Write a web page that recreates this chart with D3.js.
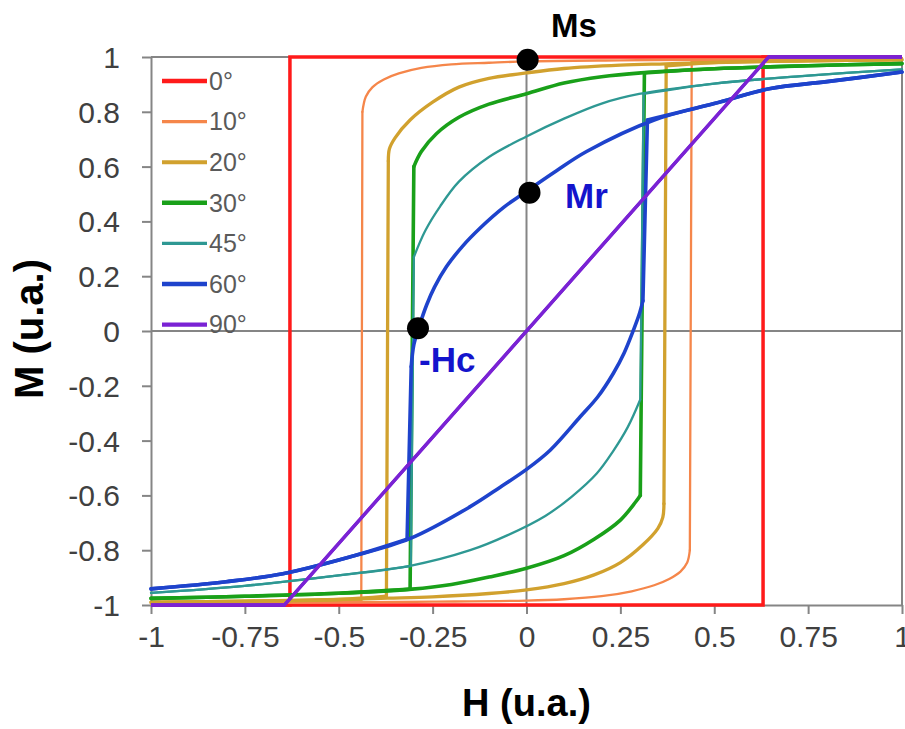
<!DOCTYPE html>
<html><head><meta charset="utf-8">
<script src="https://cdn.jsdelivr.net/npm/d3@7/dist/d3.min.js"></script>
<style>body{margin:0;background:#fff;} svg{display:block;font-family:"Liberation Sans",Arial,sans-serif;}</style>
</head><body><svg id="chart" width="905" height="729"></svg>
<script>
// ---------- data ----------
const angleLabels = ["0°","10°","20°","30°","45°","60°","90°"];
const hTicks = [-1,-0.75,-0.5,-0.25,0,0.25,0.5,0.75,1];
const hTickLabels = ["-1","-0.75","-0.5","-0.25","0","0.25","0.5","0.75","1"];
const mTicks = [-1,-0.8,-0.6,-0.4,-0.2,0,0.2,0.4,0.6,0.8,1];
const mTickLabels = ["-1","-0.8","-0.6","-0.4","-0.2","0","0.2","0.4","0.6","0.8","1"];

// [H, M] points, descending-field branch and ascending-field branch
const m0Desc = [[1,1],[-0.63,1],[-0.63,-1],[-1,-1]];
const m0Asc  = [[-1,-1],[0.63,-1],[0.63,1],[1,1]];

const m10Desc = [[1,0.995],[0.7,0.992],[0.437,0.99],[0.25,0.988],[0,0.984],[-0.1,0.979],[-0.2,0.973],[-0.28,0.96],[-0.34,0.94],[-0.38,0.918],[-0.41,0.89],[-0.428,0.855],[-0.437,0.8],[-0.44,-0.985],[-0.7,-0.992],[-1,-0.995]];
const m10Asc  = [[-1,-0.995],[-0.7,-0.992],[-0.437,-0.99],[-0.25,-0.988],[0,-0.984],[0.1,-0.979],[0.2,-0.968],[0.28,-0.95],[0.34,-0.928],[0.38,-0.905],[0.41,-0.878],[0.428,-0.845],[0.435,-0.8],[0.44,0.985],[0.7,0.992],[1,0.995]];

const m20Desc = [[1,0.99],[0.75,0.986],[0.5,0.98],[0.37,0.975],[0.25,0.97],[0.1,0.958],[0,0.942],[-0.1,0.922],[-0.18,0.89],[-0.25,0.835],[-0.31,0.77],[-0.35,0.705],[-0.365,0.665],[-0.368,0.62],[-0.373,-0.968],[-0.5,-0.98],[-0.75,-0.986],[-1,-0.99]];
const m20Asc  = [[-1,-0.99],[-0.75,-0.986],[-0.5,-0.98],[-0.37,-0.975],[-0.25,-0.97],[-0.1,-0.958],[0,-0.945],[0.1,-0.922],[0.18,-0.89],[0.25,-0.845],[0.31,-0.78],[0.35,-0.72],[0.363,-0.68],[0.366,-0.63],[0.372,0.968],[0.5,0.98],[0.75,0.986],[1,0.99]];

const m30Desc = [[1,0.976],[0.75,0.968],[0.5,0.957],[0.305,0.942],[0.2,0.928],[0.1,0.905],[0,0.866],[-0.1,0.828],[-0.18,0.78],[-0.24,0.72],[-0.28,0.655],[-0.3,0.6],[-0.31,-0.942],[-0.5,-0.957],[-0.75,-0.968],[-1,-0.976]];
const m30Asc  = [[-1,-0.976],[-0.75,-0.968],[-0.5,-0.957],[-0.305,-0.942],[-0.2,-0.925],[-0.1,-0.898],[0,-0.866],[0.1,-0.82],[0.18,-0.76],[0.25,-0.69],[0.29,-0.625],[0.303,-0.6],[0.314,0.942],[0.5,0.957],[0.75,0.968],[1,0.976]];

const m45Desc = [[1,0.955],[0.75,0.932],[0.5,0.903],[0.3,0.865],[0.2,0.83],[0.1,0.775],[0,0.71],[-0.1,0.635],[-0.18,0.545],[-0.23,0.455],[-0.27,0.365],[-0.3,0.27],[-0.308,-0.858],[-0.5,-0.892],[-0.75,-0.93],[-1,-0.956]];
const m45Asc  = [[-1,-0.956],[-0.75,-0.93],[-0.5,-0.892],[-0.31,-0.857],[-0.15,-0.8],[-0.05,-0.745],[0.05,-0.675],[0.12,-0.605],[0.187,-0.52],[0.23,-0.44],[0.27,-0.35],[0.303,-0.25],[0.312,0.865],[0.5,0.903],[0.75,0.932],[1,0.955]];

const m60Desc = [[1,0.945],[0.8,0.91],[0.65,0.885],[0.5,0.83],[0.34,0.77],[0.16,0.655],[0.08,0.585],[0,0.51],[-0.06,0.452],[-0.124,0.375],[-0.17,0.31],[-0.213,0.235],[-0.245,0.16],[-0.266,0.095],[-0.285,0.02],[-0.3,-0.05],[-0.307,-0.13],[-0.318,-0.76],[-0.471,-0.825],[-0.649,-0.886],[-0.8,-0.915],[-1,-0.941]];
const m60Asc  = [[-1,-0.941],[-0.8,-0.915],[-0.649,-0.886],[-0.471,-0.825],[-0.311,-0.758],[-0.151,-0.642],[-0.07,-0.57],[0,-0.505],[0.063,-0.435],[0.143,-0.313],[0.19,-0.24],[0.231,-0.155],[0.26,-0.08],[0.285,0.004],[0.3,0.06],[0.31,0.11],[0.322,0.77],[0.5,0.83],[0.65,0.885],[0.8,0.91],[1,0.945]];

const m90Desc = [[1,1],[0.645,1],[-0.645,-1],[-1,-1]];
const m90Asc  = [[-1,-1],[-0.645,-1],[0.645,1],[1,1]];

// annotation points [H, M]
const msPoint = [0.003, 0.99];
const mrPoint = [0.008, 0.505];
const hcPoint = [-0.289, 0.01];

// ---------- styles ----------
const series = [
  {label: angleLabels[0], branches: [m0Desc, m0Asc], color: "#ff1a1a", width: 3.5, smooth: false},
  {label: angleLabels[1], branches: [m10Desc, m10Asc], color: "#f5864a", width: 2.3, smooth: true},
  {label: angleLabels[2], branches: [m20Desc, m20Asc], color: "#d1a12e", width: 3.3, smooth: true},
  {label: angleLabels[3], branches: [m30Desc, m30Asc], color: "#19a019", width: 3.6, smooth: true},
  {label: angleLabels[4], branches: [m45Desc, m45Asc], color: "#2e9893", width: 2.3, smooth: true},
  {label: angleLabels[5], branches: [m60Desc, m60Asc], color: "#1e43cc", width: 3.6, smooth: true},
  {label: angleLabels[6], branches: [m90Desc, m90Asc], color: "#7a22d4", width: 3.3, smooth: false}
];

const svg = d3.select("#chart");
const x = d3.scaleLinear().domain([-1, 1]).range([151, 902]);
const y = d3.scaleLinear().domain([-1, 1]).range([605, 57]);
const gridColor = "#858585";
const tickColor = "#404040";

// plot frame (top and right)
svg.append("line").attr("x1", x(-1)).attr("x2", x(1)).attr("y1", y(1)).attr("y2", y(1))
  .attr("stroke", gridColor).attr("stroke-width", 2);
svg.append("line").attr("x1", x(1)).attr("x2", x(1)).attr("y1", y(1)).attr("y2", y(-1))
  .attr("stroke", gridColor).attr("stroke-width", 2);

// zero lines
svg.append("line").attr("x1", x(-1)).attr("x2", x(1)).attr("y1", y(0)).attr("y2", y(0))
  .attr("stroke", gridColor).attr("stroke-width", 2);
svg.append("line").attr("x1", x(0)).attr("x2", x(0)).attr("y1", y(1)).attr("y2", y(-1))
  .attr("stroke", gridColor).attr("stroke-width", 2);

// axes
const gx = svg.append("g").attr("transform", `translate(0,${y(-1)})`)
  .call(d3.axisBottom(x).tickValues(hTicks).tickFormat((d, i) => hTickLabels[i])
    .tickSize(9).tickSizeOuter(0).tickPadding(12));
const gy = svg.append("g").attr("transform", `translate(${x(-1)},0)`)
  .call(d3.axisLeft(y).tickValues(mTicks).tickFormat((d, i) => mTickLabels[i])
    .tickSize(9).tickSizeOuter(0).tickPadding(22));
[gx, gy].forEach(g => {
  g.select(".domain").attr("stroke", gridColor).attr("stroke-width", 2);
  g.selectAll(".tick line").attr("stroke", gridColor).attr("stroke-width", 2);
  g.selectAll(".tick text").attr("fill", tickColor).attr("font-size", 30)
    .attr("font-family", "'Liberation Sans', Arial, sans-serif");
});
gy.selectAll(".tick text").attr("dy", "0.35em");

// curves
const lineSmooth = d3.line().x(d => x(d[0])).y(d => y(d[1])).curve(d3.curveCatmullRom.alpha(0.5));
const lineStraight = d3.line().x(d => x(d[0])).y(d => y(d[1]));
function splitJumps(pts) {
  const segs = [];
  let cur = [pts[0]];
  for (let i = 1; i < pts.length; i++) {
    const p = pts[i - 1], q = pts[i];
    if (Math.abs(q[1] - p[1]) > 0.3 && Math.abs(q[0] - p[0]) < 0.03) {
      segs.push({pts: cur, smooth: true});
      segs.push({pts: [p, q], smooth: false});
      cur = [q];
    } else cur.push(q);
  }
  segs.push({pts: cur, smooth: true});
  return segs.filter(s => s.pts.length > 1);
}
const curvesG = svg.append("g");
series.forEach(s => {
  s.branches.forEach(b => {
    if (!s.smooth) {
      curvesG.append("path").attr("d", lineStraight(b)).attr("fill", "none")
        .attr("stroke", s.color).attr("stroke-width", s.width).attr("stroke-linejoin", "miter");
    } else {
      splitJumps(b).forEach(seg => {
        curvesG.append("path").attr("d", seg.smooth ? lineSmooth(seg.pts) : lineStraight(seg.pts))
          .attr("fill", "none").attr("stroke", s.color).attr("stroke-width", s.width)
          .attr("stroke-linecap", "round").attr("stroke-linejoin", "round");
      });
    }
  });
});

// legend
const legend = svg.append("g");
series.forEach((s, i) => {
  const ly = 81 + i * 40.6;
  legend.append("line").attr("x1", 162).attr("x2", 207).attr("y1", ly).attr("y2", ly)
    .attr("stroke", s.color).attr("stroke-width", s.width + 0.8);
  legend.append("text").attr("x", 209).attr("y", ly).attr("dy", "0.35em")
    .attr("font-size", 25).attr("fill", "#5a5a5a").text(s.label);
});

// annotation dots
[msPoint, mrPoint, hcPoint].forEach(p => {
  svg.append("circle").attr("cx", x(p[0])).attr("cy", y(p[1])).attr("r", 11).attr("fill", "#000");
});
svg.append("text").attr("x", 551).attr("y", 37).attr("font-size", 33).attr("font-weight", "bold")
  .attr("fill", "#000").text("Ms");
svg.append("text").attr("x", 565).attr("y", 208).attr("font-size", 35).attr("font-weight", "bold")
  .attr("fill", "#1414cc").text("Mr");
svg.append("text").attr("x", 419).attr("y", 372).attr("font-size", 35).attr("font-weight", "bold")
  .attr("fill", "#1414cc").text("-Hc");

// white title box (covers part of some tick minus signs as in reference)
svg.append("rect").attr("x", 0).attr("y", 250).attr("width", 68).attr("height", 215).attr("fill", "#fff");

// axis titles
svg.append("text").attr("transform", "translate(43,329) rotate(-90)").attr("text-anchor", "middle")
  .attr("font-size", 40).attr("font-weight", "bold").attr("fill", "#000").text("M (u.a.)");
svg.append("text").attr("x", x(0)).attr("y", 716).attr("text-anchor", "middle")
  .attr("font-size", 38).attr("font-weight", "bold").attr("fill", "#000").text("H (u.a.)");
</script></body></html>
